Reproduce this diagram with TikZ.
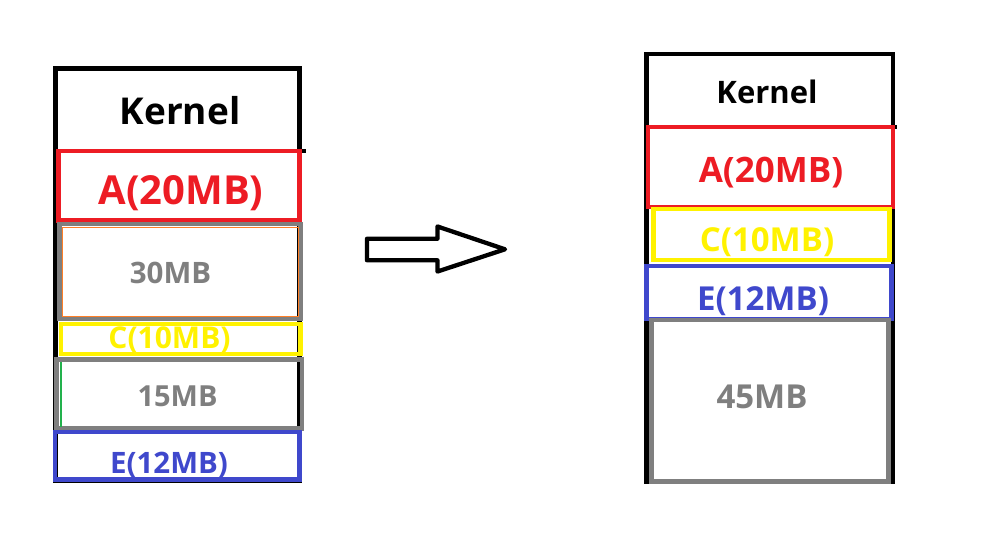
\documentclass[tikz,border=0pt]{standalone}
\usepackage{fontspec}
\setmainfont{Open Sans}
\definecolor{memred}{RGB}{237,28,36}
\definecolor{memyellow}{RGB}{255,242,0}
\definecolor{memblue}{RGB}{63,72,204}
\definecolor{memgray}{RGB}{127,127,127}
\definecolor{memorange}{RGB}{255,127,39}
\definecolor{memgreen}{RGB}{34,177,76}

\begin{document}
\begin{tikzpicture}[x=1pt, y=-1pt,
    frame/.style={draw=black, line width=4.5pt},
    seg/.style={line width=4.5pt},
    lbl/.style={anchor=base, inner sep=0pt, font=\bfseries\fontsize{#1}{#1}\selectfont}]
            \useasboundingbox (0,0) rectangle (995,543);
            \fill[white] (0,0) rectangle (995,543);
            % before compaction
            \draw[frame] (55.3,68.7) rectangle (299.5,481);
            \draw[frame] (55.3,151) -- (306,151);
            \draw[seg, draw=memred] (58.7,151) rectangle (299.5,220.7);
            \draw[seg, draw=memgray] (59.7,224) rectangle (300.5,318.3);
            \draw[draw=memorange, line width=1pt] (62.5,227) rectangle (298,316);
            \draw[seg, draw=memyellow] (61,324) rectangle (300.5,354);
            \draw[seg, draw=memgray] (56.5,359.7) rectangle (302,428.3);
            \draw[draw=memgreen, line width=2pt] (61.3,362) -- (61.3,427);
            \draw[seg, draw=memblue] (55,432) rectangle (299.5,479.5);
            \node (kernelL) at (180,124) [lbl=37] {Kernel};
            \node (procAL) at (181,204) [lbl=40, text=memred] {A(20MB)};
            \node (hole30L) at (170.5,283) [lbl=29.5, text=memgray] {30MB};
            \node (procCL) at (169.5,348) [lbl=30, text=memyellow] {C(10MB)};
            \node (hole15L) at (177.5,406) [lbl=29, text=memgray] {15MB};
            \node (procEL) at (169,473) [lbl=29.5, text=memblue] {E(12MB)};
            % arrow
            \draw[line width=4.3pt, line join=round] (367,238.7) -- (437.5,238.7) -- (437.5,226.5)
                -- (505,249.3) -- (437.5,271.5) -- (437.5,260.3) -- (367,260.3) -- cycle;
            % after compaction
            \draw[frame] (646.5,54) rectangle (893,482);
            \draw[frame] (646.5,127) -- (897,127);
            \draw[seg, draw=memred] (648,127) rectangle (893,207);
            \draw[seg, draw=memyellow] (653.3,209) rectangle (889.5,260);
            \draw[seg, draw=memblue] (646.5,266) rectangle (891.7,318.8);
            \draw[seg, draw=memgray] (651.7,320) rectangle (888.3,481.7);
            \node (kernelR) at (767,103) [lbl=31] {Kernel};
            \node (procAR) at (771,182) [lbl=35, text=memred] {A(20MB)};
            \node (procCR) at (767,251) [lbl=33, text=memyellow] {C(10MB)};
            \node (procER) at (763,310) [lbl=33, text=memblue] {E(12MB)};
            \node (hole45R) at (762,408) [lbl=33, text=memgray] {45MB};
\end{tikzpicture}
\end{document}
